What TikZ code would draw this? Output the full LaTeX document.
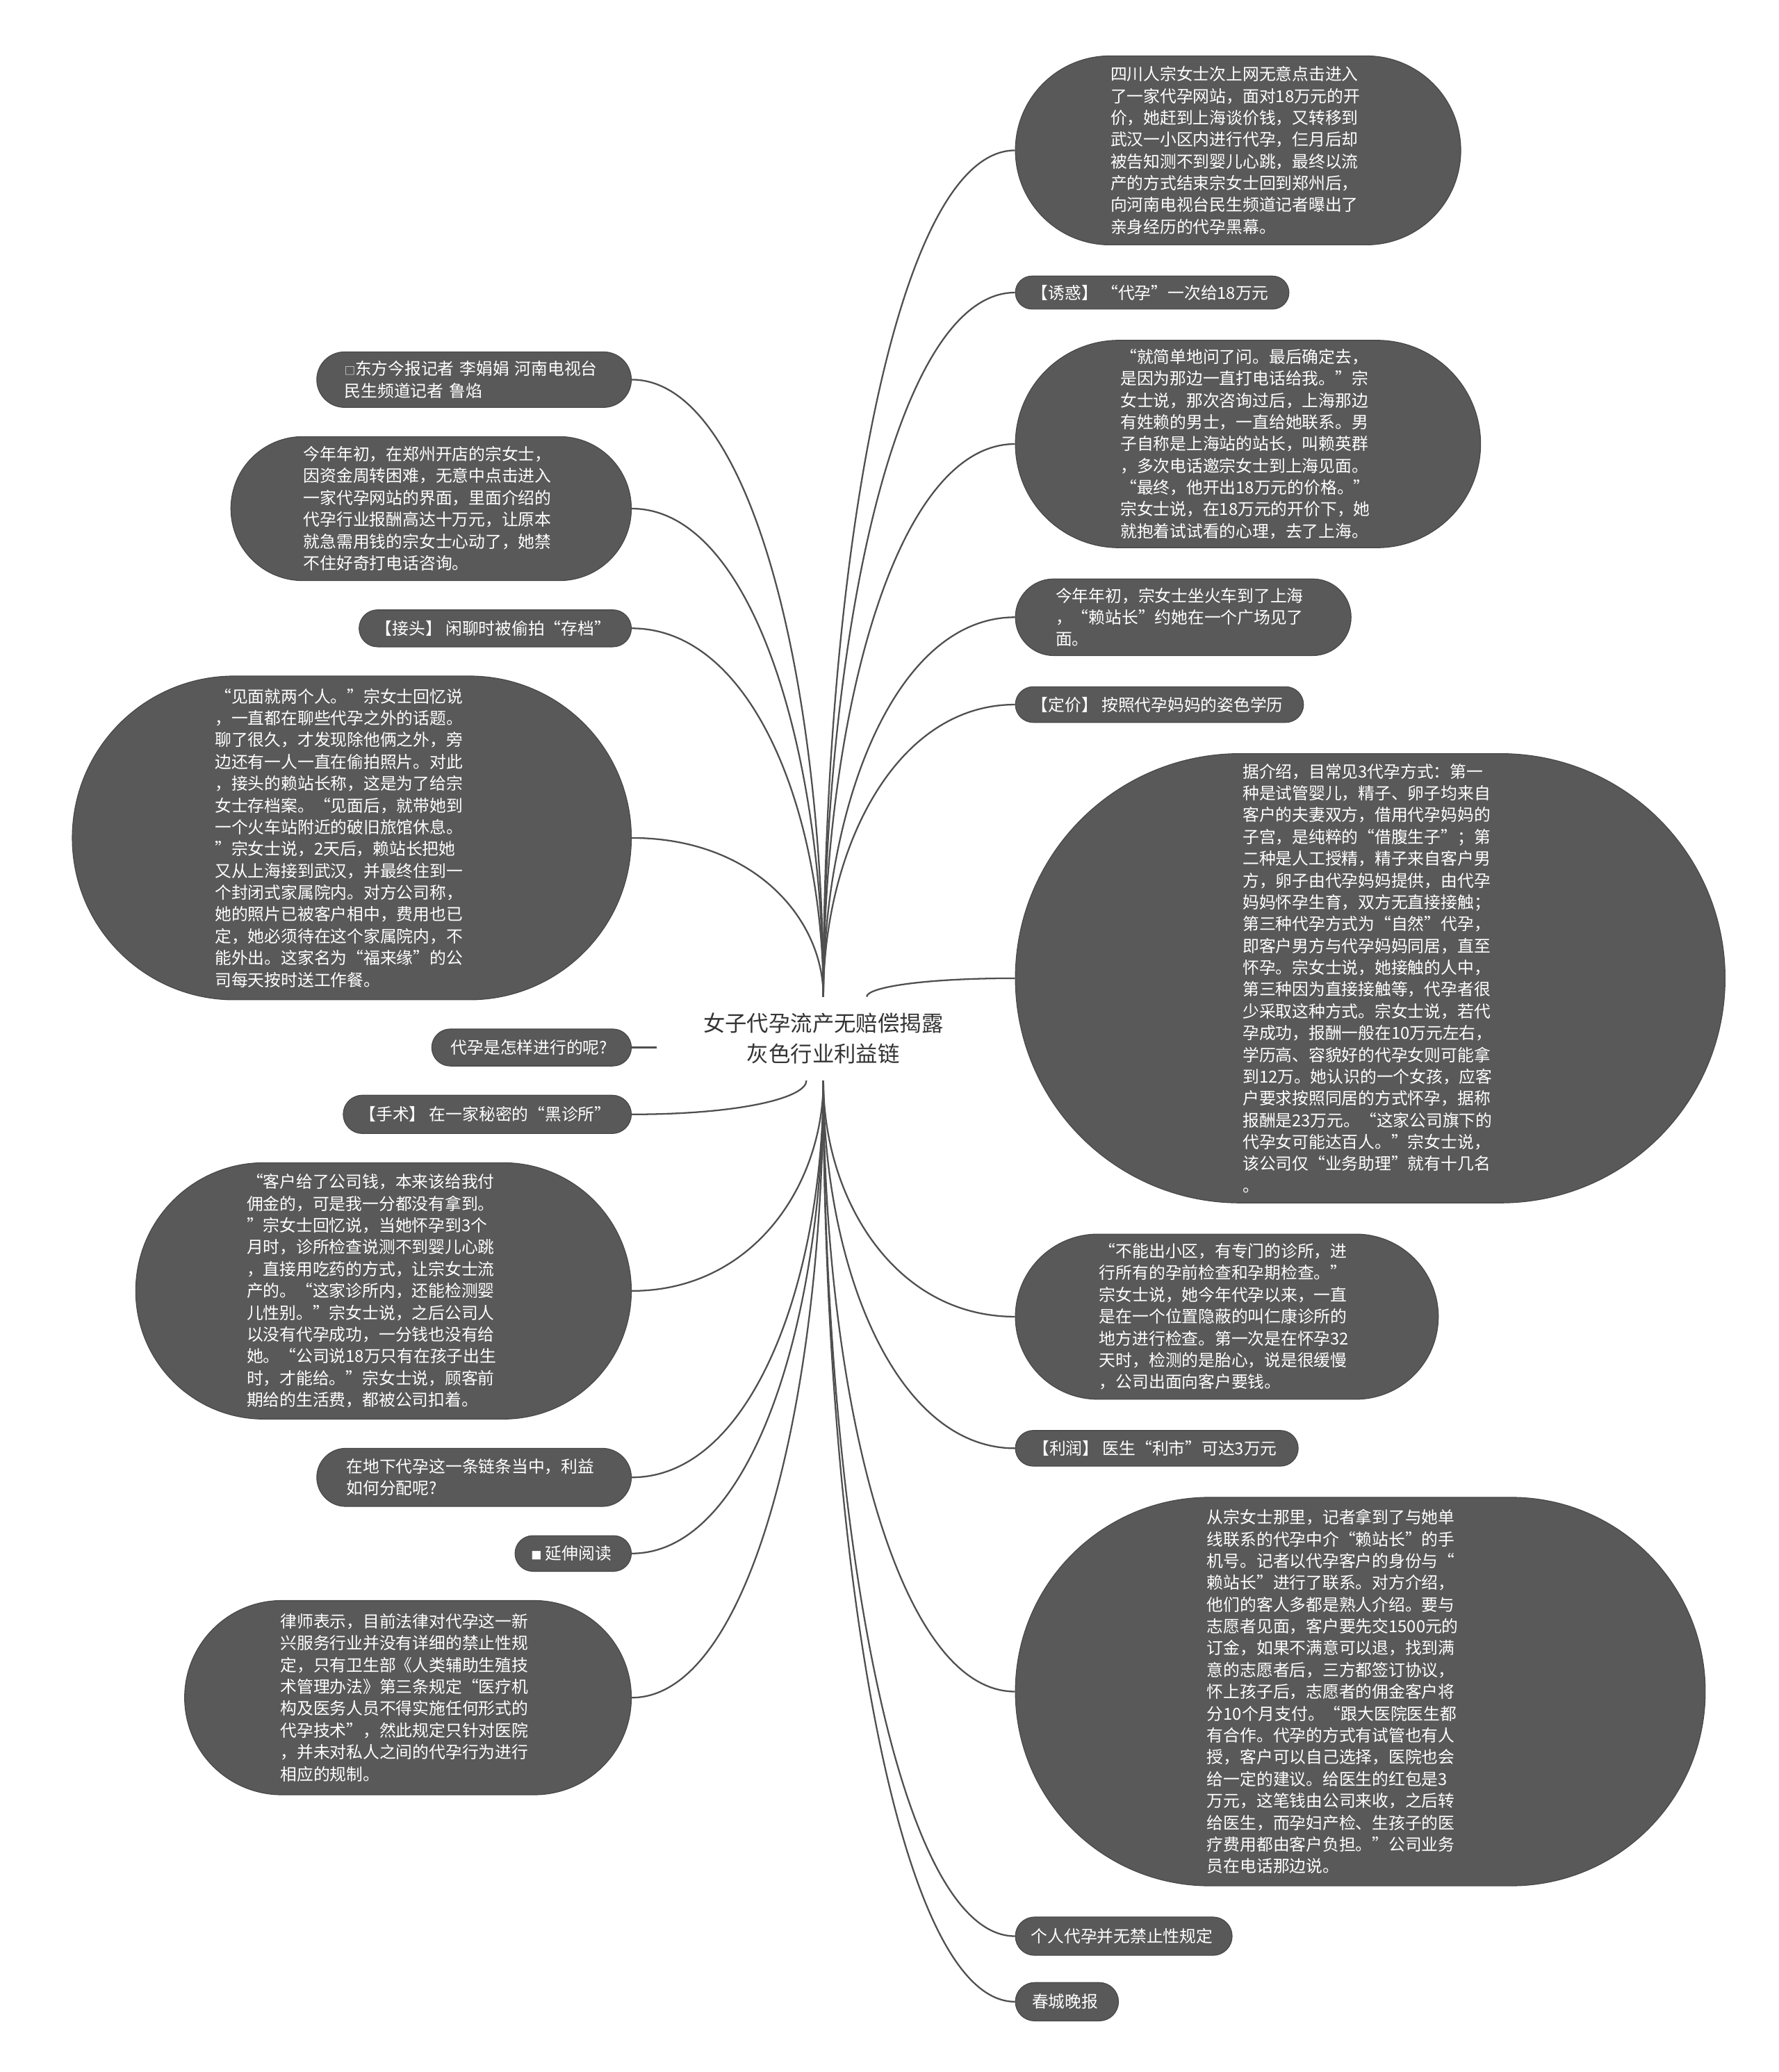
\documentclass[tikz,border=0pt]{standalone}
\usepackage{fontspec}
\setmainfont{Noto Sans CJK SC}
\usepackage{tikz}
\usetikzlibrary{positioning,calc}
\usepackage{xcolor}
\definecolor{nodegrey}{HTML}{595959}
\definecolor{nodeedge}{HTML}{474747}
\definecolor{linkgrey}{HTML}{4F4F4F}
\definecolor{rootink}{HTML}{333333}

\begin{document}
\begin{tikzpicture}[
  x=1pt, y=-1pt,
  tagbox/.style={
    rectangle,
    fill=nodegrey,
    draw=nodeedge,
    line width=0.6pt,
    inner sep=3pt,
    text=white,
    font=\fontsize{12.5}{16.5}\selectfont,
    align=center
  },
  topicbox/.style={
    tagbox,
    align=left,
    text width=193pt
  },
  pill/.style 2 args={
    minimum width=#1pt,
    minimum height=#2pt,
    rounded corners=#2*0.5pt
  },
  rootbox/.style={
    rectangle,
    minimum width=252pt,
    minimum height=63pt,
    inner sep=0pt,
    text=rootink,
    font=\fontsize{16.5}{23}\selectfont,
    align=center
  },
  branch/.style={
    draw=linkgrey,
    line width=1.2pt,
    to path={.. controls ($(\tikztostart)!0.5!(\tikztostart|-\tikztotarget)$)
      and ($(\tikztostart|-\tikztotarget)!0.37!(\tikztotarget)$) .. (\tikztotarget)}
  }
]

  \useasboundingbox (0,0) rectangle (1346,1568);

  % Centre topic
  \node[rootbox] (root) at (623,786) {女子代孕流产无赔偿揭露\\灰色行业利益链};

  % --- RIGHT COLUMN ---
  \node[topicbox, pill={337}{143}, anchor=north west] (r1) at (768,42) {
    四川人宗女士次上网无意点击进入\\了一家代孕网站，面对18万元的开\\价，她赶到上海谈价钱，又转移到\\武汉一小区内进行代孕，仨月后却\\被告知测不到婴儿心跳，最终以流\\产的方式结束宗女士回到郑州后，\\向河南电视台民生频道记者曝出了\\亲身经历的代孕黑幕。
  };
  \node[tagbox, pill={207}{25}, below=23pt of r1.south west, anchor=north west] (r2) {
    【诱惑】 “代孕”一次给18万元
  };
  \node[topicbox, pill={352}{157}, below=23pt of r2.south west, anchor=north west] (r3) {
    “就简单地问了问。最后确定去，\\是因为那边一直打电话给我。”宗\\女士说，那次咨询过后，上海那边\\有姓赖的男士，一直给她联系。男\\子自称是上海站的站长，叫赖英群\\，多次电话邀宗女士到上海见面。\\“最终，他开出18万元的价格。”\\宗女士说，在18万元的开价下，她\\就抱着试试看的心理，去了上海。
  };
  \node[topicbox, pill={254}{58}, below=23pt of r3.south west, anchor=north west] (r4) {
    今年年初，宗女士坐火车到了上海\\，“赖站长”约她在一个广场见了\\面。
  };
  \node[tagbox, pill={218}{27}, below=23pt of r4.south west, anchor=north west] (r5) {
    【定价】 按照代孕妈妈的姿色学历
  };
  \node[topicbox, pill={537}{340}, below=23pt of r5.south west, anchor=north west] (r6) {
    据介绍，目常见3代孕方式：第一\\种是试管婴儿，精子、卵子均来自\\客户的夫妻双方，借用代孕妈妈的\\子宫，是纯粹的“借腹生子”；第\\二种是人工授精，精子来自客户男\\方，卵子由代孕妈妈提供，由代孕\\妈妈怀孕生育，双方无直接接触；\\第三种代孕方式为“自然”代孕，\\即客户男方与代孕妈妈同居，直至\\怀孕。宗女士说，她接触的人中，\\第三种因为直接接触等，代孕者很\\少采取这种方式。宗女士说，若代\\孕成功，报酬一般在10万元左右，\\学历高、容貌好的代孕女则可能拿\\到12万。她认识的一个女孩，应客\\户要求按照同居的方式怀孕，据称\\报酬是23万元。“这家公司旗下的\\代孕女可能达百人。”宗女士说，\\该公司仅“业务助理”就有十几名\\。
  };
  \node[topicbox, pill={320}{125}, below=23pt of r6.south west, anchor=north west] (r7) {
    “不能出小区，有专门的诊所，进\\行所有的孕前检查和孕期检查。”\\宗女士说，她今年代孕以来，一直\\是在一个位置隐蔽的叫仁康诊所的\\地方进行检查。第一次是在怀孕32\\天时，检测的是胎心，说是很缓慢\\，公司出面向客户要钱。
  };
  \node[tagbox, pill={214}{27}, below=23pt of r7.south west, anchor=north west] (r8) {
    【利润】 医生“利市”可达3万元
  };
  \node[topicbox, text width=232pt, pill={522}{294}, below=23pt of r8.south west, anchor=north west] (r9) {
    从宗女士那里，记者拿到了与她单\\线联系的代孕中介“赖站长”的手\\机号。记者以代孕客户的身份与“\\赖站长”进行了联系。对方介绍，\\他们的客人多都是熟人介绍。要与\\志愿者见面，客户要先交1500元的\\订金，如果不满意可以退，找到满\\意的志愿者后，三方都签订协议，\\怀上孩子后，志愿者的佣金客户将\\分10个月支付。“跟大医院医生都\\有合作。代孕的方式有试管也有人\\授，客户可以自己选择，医院也会\\给一定的建议。给医生的红包是3\\万元，这笔钱由公司来收，之后转\\给医生，而孕妇产检、生孩子的医\\疗费用都由客户负担。”公司业务\\员在电话那边说。
  };
  \node[tagbox, pill={164}{29}, below=23pt of r9.south west, anchor=north west] (r10) {
    个人代孕并无禁止性规定
  };
  \node[tagbox, pill={78}{29}, below=20pt of r10.south west, anchor=north west] (r11) {
    春城晚报
  };

  % --- LEFT COLUMN ---
  \node[topicbox, text width=196pt, pill={238}{42}, anchor=north east] (l1) at (478,266) {
    {\fontsize{8}{8}\selectfont□}东方今报记者 李娟娟 河南电视台\\民生频道记者 鲁焰
  };
  \node[topicbox, pill={303}{109}, below=21.5pt of l1.south east, anchor=north east] (l2) {
    今年年初，在郑州开店的宗女士，\\因资金周转困难，无意中点击进入\\一家代孕网站的界面，里面介绍的\\代孕行业报酬高达十万元，让原本\\就急需用钱的宗女士心动了，她禁\\不住好奇打电话咨询。
  };
  \node[tagbox, pill={206}{28}, below=21.5pt of l2.south east, anchor=north east] (l3) {
    【接头】 闲聊时被偷拍“存档”
  };
  \node[topicbox, text width=207pt, pill={423}{245}, below=21.5pt of l3.south east, anchor=north east] (l4) {
    “见面就两个人。”宗女士回忆说\\，一直都在聊些代孕之外的话题。\\聊了很久，才发现除他俩之外，旁\\边还有一人一直在偷拍照片。对此\\，接头的赖站长称，这是为了给宗\\女士存档案。“见面后，就带她到\\一个火车站附近的破旧旅馆休息。\\”宗女士说，2天后，赖站长把她\\又从上海接到武汉，并最终住到一\\个封闭式家属院内。对方公司称，\\她的照片已被客户相中，费用也已\\定，她必须待在这个家属院内，不\\能外出。这家名为“福来缘”的公\\司每天按时送工作餐。
  };
  \node[tagbox, pill={151}{28}, below=21.5pt of l4.south east, anchor=north east] (l5) {
    代孕是怎样进行的呢?
  };
  \node[tagbox, pill={218}{29}, below=21.5pt of l5.south east, anchor=north east] (l6) {
    【手术】 在一家秘密的“黑诊所”
  };
  \node[topicbox, text width=207pt, pill={375}{194}, below=21.5pt of l6.south east, anchor=north east] (l7) {
    “客户给了公司钱，本来该给我付\\佣金的，可是我一分都没有拿到。\\”宗女士回忆说，当她怀孕到3个\\月时，诊所检查说测不到婴儿心跳\\，直接用吃药的方式，让宗女士流\\产的。“这家诊所内，还能检测婴\\儿性别。”宗女士说，之后公司人\\以没有代孕成功，一分钱也没有给\\她。“公司说18万只有在孩子出生\\时，才能给。”宗女士说，顾客前\\期给的生活费，都被公司扣着。
  };
  \node[topicbox, pill={238}{44}, below=21.5pt of l7.south east, anchor=north east] (l8) {
    在地下代孕这一条链条当中，利益\\如何分配呢?
  };
  \node[tagbox, pill={88}{27}, below=21.5pt of l8.south east, anchor=north east] (l9) {
    {\fontsize{8}{8}\selectfont■} 延伸阅读
  };
  \node[topicbox, pill={338}{147}, below=21.5pt of l9.south east, anchor=north east] (l10) {
    律师表示，目前法律对代孕这一新\\兴服务行业并没有详细的禁止性规\\定，只有卫生部《人类辅助生殖技\\术管理办法》第三条规定“医疗机\\构及医务人员不得实施任何形式的\\代孕技术”，然此规定只针对医院\\，并未对私人之间的代孕行为进行\\相应的规制。
  };

  % Branches from the centre topic
  \foreach \n in {r1,r2,r3,r4,r5}
    \draw[branch] (root.north) to (\n.west);
  \foreach \n in {l1,l2,l3,l4}
    \draw[branch] (root.north) to (\n.east);
  \draw[branch] (root.44) to (r6.west);
  \draw[branch] (l5.east) -- (l5.east -| root.west);
  \draw[branch] (root.248) to (l6.east);
  \foreach \n in {r7,r8,r9,r10,r11}
    \draw[branch] (root.south) to (\n.west);
  \foreach \n in {l7,l8,l9,l10}
    \draw[branch] (root.south) to (\n.east);

\end{tikzpicture}
\end{document}
